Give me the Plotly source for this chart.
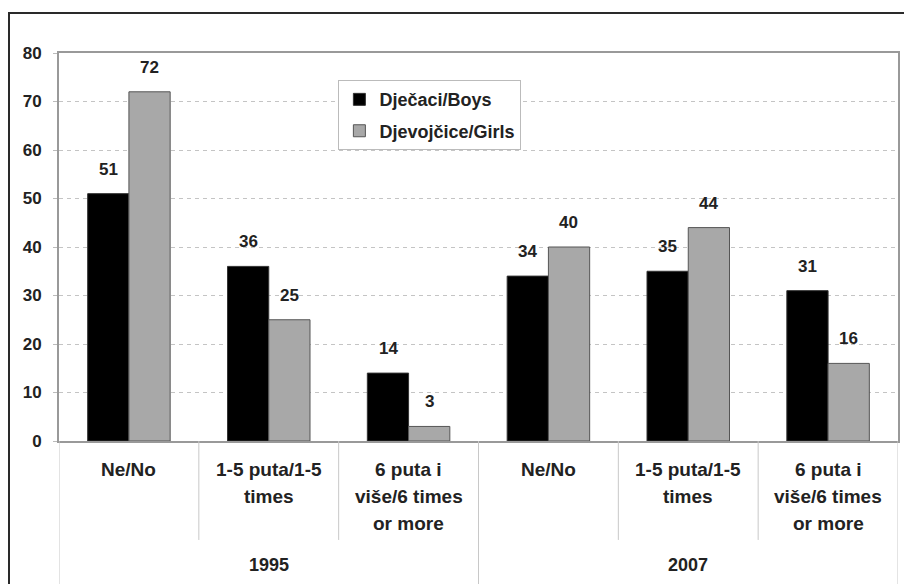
import plotly.graph_objects as go

# ---- data ----
years = ["1995", "2007"]
answers = ["Ne/No", "1-5 puta/1-5<br>times", "6 puta i<br>više/6 times<br>or more"]
categories = [f"{y} {a}" for y in years for a in answers]
boys = [51, 36, 14, 34, 35, 31]
girls = [72, 25, 3, 40, 44, 16]
series_names = ["Dječaci/Boys", "Djevojčice/Girls"]
y_ticks = [0, 10, 20, 30, 40, 50, 60, 70, 80]

FONT = "Liberation Sans, Arial, sans-serif"
TXT = "#222222"
BLACK = "#000000"
GRAY = "#a8a8a8"

fig = go.Figure()
fig.add_trace(go.Bar(x=categories, y=boys, name=series_names[0],
                     marker=dict(color=BLACK, line=dict(color="#333333", width=1)),
                     legendgroup="b"))
fig.add_trace(go.Bar(x=categories, y=girls, name=series_names[1],
                     marker=dict(color=GRAY, line=dict(color="#555555", width=1)),
                     legendgroup="g"))

annotations = []
# value labels
for vals, shift in ((boys, -20.5), (girls, 20.5)):
    for c, v in zip(categories, vals):
        annotations.append(dict(x=c, y=v, xref="x", yref="y", text=str(v),
                                showarrow=False, xshift=shift, yshift=13,
                                yanchor="bottom",
                                font=dict(family=FONT, size=17, color=TXT, weight="bold")))
# category labels (one annotation per line)
for c in categories:
    label = c.split(" ", 1)[1]
    for i, line in enumerate(label.split("<br>")):
        annotations.append(dict(x=c, y=0, xref="x", yref="paper", text=line,
                                showarrow=False, yanchor="middle", yshift=-28 - 27 * i,
                                font=dict(family=FONT, size=19, color=TXT, weight="bold")))
# year labels
for gi, y in enumerate(years):
    annotations.append(dict(x=gi * 3 + 1, y=0, xref="x", yref="paper", text=y,
                            showarrow=False, yanchor="middle", yshift=-124,
                            font=dict(family=FONT, size=18, color=TXT, weight="bold")))

shapes = []
# separators under the axis
for k in range(len(categories) + 1):
    xpos = k - 0.5
    outer = (k % 3 == 0)
    shapes.append(dict(type="line", xref="x", yref="paper", x0=xpos, x1=xpos,
                       y0=0, y1=(-0.40 if outer else -0.255),
                       line=dict(color="#c8c8c8", width=1)))
# outer frame
shapes.append(dict(type="rect", xref="paper", yref="paper",
                   x0=-0.0596, x1=1.03, y0=-0.45, y1=1.103,
                   line=dict(color="#2a2a2a", width=2), layer="above"))

fig.update_layout(
    width=904, height=576,
    margin=dict(l=51, r=14, t=45, b=143),
    paper_bgcolor="white", plot_bgcolor="white",
    barmode="group", bargap=0.41, bargroupgap=0,
    font=dict(family=FONT, color=TXT),
    showlegend=True,
    legend=dict(x=0.333, y=0.930, xanchor="left", yanchor="top",
                bgcolor="white", bordercolor="#bbbbbb", borderwidth=1,
                font=dict(family=FONT, size=18, color=TXT, weight="bold"),
                traceorder="grouped", tracegroupgap=5, itemwidth=30),
    xaxis=dict(type="category", showticklabels=False, showgrid=False,
               showline=True, linecolor="#999999", linewidth=2, mirror=True,
               ticks="", range=[-0.5, 5.5], fixedrange=True),
    yaxis=dict(range=[0, 80], tickvals=y_ticks, showgrid=True,
               gridcolor="#c4c4c4", griddash="4px,4px", gridwidth=1,
               showline=True, linecolor="#999999", linewidth=2, mirror=True,
               ticks="outside", ticklen=4, tickcolor="#bbbbbb",
               ticklabelstandoff=8,
               tickfont=dict(family=FONT, size=17, color=TXT, weight="bold"),
               zeroline=False),
    annotations=annotations,
    shapes=shapes,
)

fig.write_html("out.html")
